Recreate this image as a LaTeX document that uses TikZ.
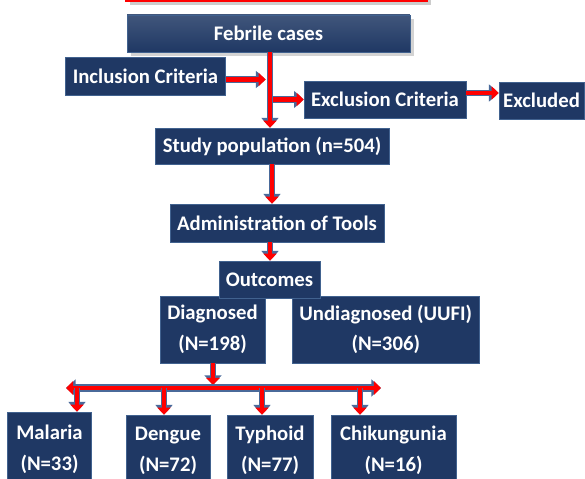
\documentclass[tikz,border=0pt]{standalone}
\usepackage{fontspec}
\setmainfont{Carlito}
\usetikzlibrary{arrows.meta,shadows}
\definecolor{navy}{HTML}{1F3864}
\definecolor{boxedge}{HTML}{41628F}
\definecolor{arrowedge}{HTML}{4A6A9A}
\tikzset{
  box/.style={draw=boxedge, fill=navy, text=white, inner sep=0pt, align=center,
    font=\fontsize{11.8}{17.5}\selectfont\bfseries},
  redarr/.style={red, line width=2.3pt, -{Triangle[length=4pt,width=7.5pt]},
    preaction={draw=arrowedge, line width=3.5pt, -{Triangle[length=5.5pt,width=9.5pt]}}},
  redbar/.style={red, line width=2.7pt, {Triangle[length=4pt,width=7.5pt]}-{Triangle[length=4pt,width=7.5pt]},
    preaction={draw=arrowedge, line width=4pt, {Triangle[length=5.5pt,width=9.5pt]}-{Triangle[length=5.5pt,width=9.5pt]}}}
}
\begin{document}
\begin{tikzpicture}[x=0.02cm, y=-0.02cm]
\useasboundingbox (0,0) rectangle (585,479);
\clip (0,0) rectangle (585,479);
% cut-off title frame
\draw[red, line width=1.5pt, fill=white, drop shadow={opacity=0.4}] (126,-20) rectangle (427,1);
% boxes
\node[box, minimum width=5.66cm, minimum height=0.74cm, top color=navy!85!white, bottom color=navy, drop shadow={opacity=0.35}] (febrile) at (268.5,33.5) {Febrile cases};
\node[box, minimum width=3.2cm, minimum height=0.76cm] (incl) at (145.5,76) {Inclusion Criteria};
\node[box, minimum width=3.24cm, minimum height=0.74cm] (excl) at (385,99.5) {Exclusion Criteria};
\node[box, minimum width=1.7cm, minimum height=0.74cm] (excluded) at (541.5,100.5) {Excluded};
\node[box, minimum width=4.68cm, minimum height=0.72cm] (study) at (272,146) {Study population (n=504)};
\node[box, minimum width=4.28cm, minimum height=0.76cm] (admin) at (277,223) {Administration of Tools};
\node[box, minimum width=2.1cm, minimum height=1.34cm] (diag) at (212.5,329.5) {Diagnosed\\(N=198)};
\node[box, minimum width=3.75cm, minimum height=1.34cm] (undiag) at (385.75,329.5) {Undiagnosed (UUFI)\\(N=306)};
\node[box, minimum width=2.02cm, minimum height=0.74cm] (outcomes) at (269.5,279.5) {Outcomes};
\node[box, minimum width=1.68cm, minimum height=1.48cm] (malaria) at (49.5,449) {Malaria\\(N=33)};
\node[box, minimum width=1.68cm, minimum height=1.42cm] (dengue) at (168,450.5) {Dengue\\(N=72)};
\node[box, minimum width=1.72cm, minimum height=1.42cm] (typhoid) at (270,450.5) {Typhoid\\(N=77)};
\node[box, minimum width=2.5cm, minimum height=1.42cm] (chik) at (393.5,450.5) {Chikungunia\\(N=16)};
% arrows
\path ([yshift=-0.07cm]incl.east) coordinate (inclout);
\path ([yshift=0.13cm]excl.east) coordinate (exclout);
\path ([xshift=0.03cm]febrile.south) coordinate (febout);
\path ([xshift=0.01cm]diag.south) coordinate (diagout);
\path ([xshift=0.01cm]outcomes.north) coordinate (outin);
\draw[redarr, shorten >=2.5pt] (inclout) -- (inclout -| febout);
\draw[redarr] (febout |- excl.west) -- (excl.west);
\draw[redarr] (exclout) -- (exclout -| excluded.west);
\draw[redarr] (febout) -- (febout |- study.north);
\draw[redarr] (study.south) -- (study.south |- admin.north);
\draw[redarr] (outin |- admin.south) -- (outin);
\coordinate (barL) at (66,388);
\coordinate (barR) at (381,388);
\draw[redarr, shorten >=1.7pt] (diagout) -- (diagout |- barL);
\draw[redbar] (barL) -- (barR);
\foreach \n/\dx in {malaria/0.55, dengue/-0.08, typhoid/-0.16, chik/-0.67}{
  \path ([xshift=\dx cm]\n.north) coordinate (\n-top);
  \draw[redarr] (\n-top |- barL) -- (\n-top);
}
\end{tikzpicture}
\end{document}
